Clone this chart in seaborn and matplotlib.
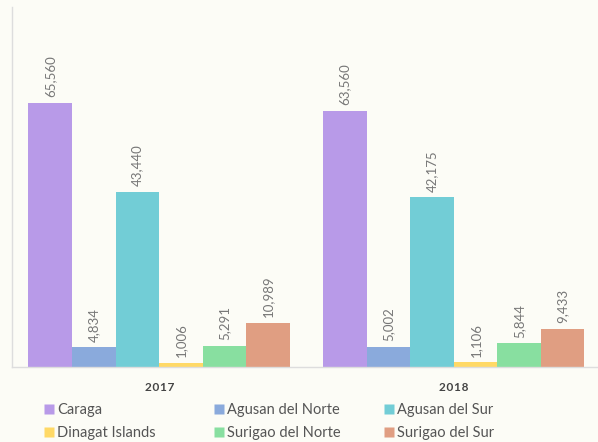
import matplotlib
matplotlib.use("Agg")
import matplotlib.pyplot as plt
from matplotlib.lines import Line2D
import seaborn as sns
import pandas as pd

years = ["2017", "2018"]
regions = ["Caraga", "Agusan del Norte", "Agusan del Sur",
           "Dinagat Islands", "Surigao del Norte", "Surigao del Sur"]
values_2017 = [65560, 4834, 43440, 1006, 5291, 10989]
values_2018 = [63560, 5002, 42175, 1106, 5844, 9433]
colors = ["#B89AE8", "#8AAADC", "#72CDD6", "#FFD966", "#88DFA0", "#E09E82"]

rows = []
for y, vals in zip(years, [values_2017, values_2018]):
    for r, v in zip(regions, vals):
        rows.append({"year": y, "region": r, "value": v})
df = pd.DataFrame(rows)

sns.set_theme(style="white")
plt.rcParams["font.family"] = ["Lato", "DejaVu Sans"]
bg = "#FCFCF6"
fig = plt.figure(figsize=(5.98, 4.42), dpi=100, facecolor=bg)
ax = fig.add_axes([0.020, 0.170, 0.985, 0.815], facecolor=bg)

sns.barplot(data=df, x="year", y="value", hue="region", hue_order=regions,
            palette=colors, width=0.888, saturation=1, ax=ax, legend=False,
            edgecolor="none", linewidth=0)

for cont in ax.containers:
    for bar in cont:
        h = bar.get_height()
        ax.annotate(f"{int(h):,}", (bar.get_x() + bar.get_width() / 2, h),
                    xytext=(0, 4), textcoords="offset points",
                    rotation=90, ha="center", va="bottom",
                    fontsize=9.5, color="#777777")

ax.set_ylim(0, 89500)
ax.set_xlim(-0.5, 1.5)
ax.set_xlabel("")
ax.set_ylabel("")
ax.set_yticks([])
ax.tick_params(axis="x", length=0, pad=11)
ax.set_xticks([0, 1])
ax.set_xticklabels(["\u200a".join(y) for y in years])
for lab in ax.get_xticklabels():
    lab.set_fontweight("bold")
    lab.set_fontsize(8.5)
    lab.set_color("#444444")
for s in ["top", "right"]:
    ax.spines[s].set_visible(False)
ax.spines["left"].set_color("#dddddd")
ax.spines["bottom"].set_color("#dddddd")
ax.spines["left"].set_linewidth(1)
ax.spines["bottom"].set_linewidth(1)

handles = [Line2D([0], [0], marker="s", linestyle="none", markersize=6.5,
                  markerfacecolor=c, markeredgecolor="none") for c in colors]
col_x = [42, 212, 382]
for i, x in enumerate(col_x):
    leg = fig.legend([handles[i], handles[i + 3]], [regions[i], regions[i + 3]],
                     loc="upper left", bbox_to_anchor=(x / 598, 1 - 403 / 442),
                     frameon=False, fontsize=10.5, labelcolor="#555555",
                     handletextpad=0.15, handlelength=0.9, labelspacing=0.6,
                     borderpad=0, borderaxespad=0)

fig.savefig("out.png", dpi=100, facecolor=bg)
